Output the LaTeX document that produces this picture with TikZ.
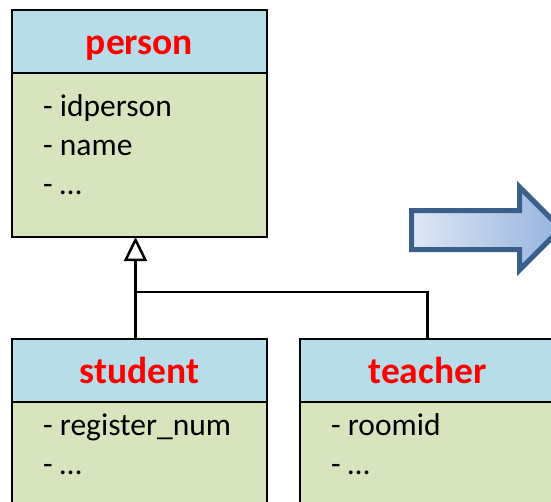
\documentclass[tikz,border=0pt]{standalone}
\usepackage{fontspec}
\setmainfont{Carlito}
\usetikzlibrary{positioning,calc,arrows.meta}
\definecolor{headblue}{HTML}{B7DDE8}
\definecolor{bodygreen}{HTML}{D7E4BD}
\definecolor{arrowedge}{HTML}{3A5F8B}
\definecolor{arrowlight}{HTML}{DFE7F4}
\definecolor{arrowdark}{HTML}{95B3DE}
\tikzset{
  classhead/.style={draw, line width=2.7pt, outer sep=0pt, inner sep=0pt, fill=headblue,
    minimum width=255pt, minimum height=63pt, text=red,
    font=\fontsize{37.5}{40}\selectfont\bfseries, text height=25pt, text depth=0pt},
  classbody/.style={draw, line width=2.7pt, outer sep=0pt, inner sep=0pt, fill=bodygreen,
    minimum width=255pt},
  attr/.style={anchor=base west, inner sep=0pt, font=\fontsize{31.5}{39}\selectfont},
  inherit/.style={line width=2.5pt}
}
\begin{document}
\begin{tikzpicture}[x=1pt, y=-1pt]
  \useasboundingbox (0,0) rectangle (551,501);
  \clip (0,0) rectangle (551,501);
  \node[classhead] (personhead) at (139.5,41.5) {person};
  \node[classbody, minimum height=164pt, below=0pt of personhead] (personbody) {};
  \node[classhead] (studenthead) at (139.5,370.5) {student};
  \node[classbody, minimum height=200pt, below=0pt of studenthead] (studentbody) {};
  \node[classhead] (teacherhead) at (427.5,370.5) {teacher};
  \node[classbody, minimum height=200pt, below=0pt of teacherhead] (teacherbody) {};
  \foreach \a [count=\i] in {- idperson, - name, - …}
    \node[attr] (personattr\i) at ($(personbody.north west)+(31,4+39*\i)$) {\a};
  \foreach \a [count=\i] in {- register\_num, - …}
    \node[attr] (studentattr\i) at ($(studentbody.north west)+(31,-6+39*\i)$) {\a};
  \foreach \a [count=\i] in {- roomid, - …}
    \node[attr] (teacherattr\i) at ($(teacherbody.north west)+(31,-6+39*\i)$) {\a};
  \coordinate (joint) at (135.5,292);
  \draw[inherit] (joint |- studenthead.north) -- (joint);
  \draw[inherit, -{Triangle[open, width=23pt, length=24pt]}] (joint) -- (joint |- personbody.south);
  \draw[inherit] (teacherhead.north) |- (joint);
  \draw[line width=5pt, draw=arrowedge, left color=arrowlight, right color=arrowdark]
    (411.5,210.5) -- (519.5,210.5) -- (519.5,187) -- (561,228.5) -- (519.5,270) -- (519.5,249.5) -- (411.5,249.5) -- cycle;
\end{tikzpicture}
\end{document}
